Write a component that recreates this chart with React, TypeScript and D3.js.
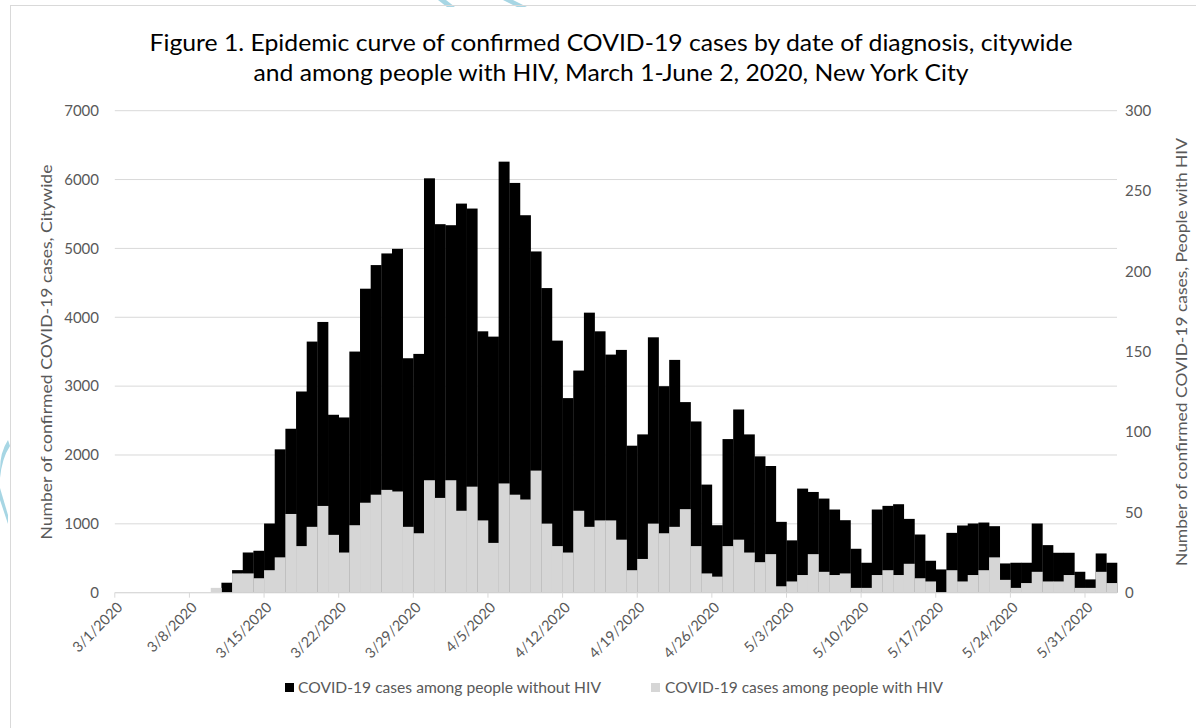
import React from "react";
import * as d3 from "d3";

const startDate = new Date(2020, 2, 1);
const endDate = new Date(2020, 5, 3);
const days: Date[] = d3.timeDay.range(startDate, endDate);
const fmt = (d: Date) => `${d.getMonth() + 1}/${d.getDate()}/${d.getFullYear()}`;
const categories: string[] = days.map(fmt);

// Citywide confirmed cases (black, left axis)
const citywide: number[] = [
  0, 0, 0, 0, 0, 0, 0, 0, 0, 0,
  145, 328, 584, 609, 1005, 2082, 2381, 2922, 3647, 3932,
  2584, 2545, 3502, 4415, 4758, 4927, 4994, 3405, 3468, 6018,
  5352, 5337, 5651, 5579, 3796, 3719, 6260, 5951, 5482, 4956,
  4424, 3661, 2826, 3226, 4067, 3796, 3458, 3526, 2135, 2299,
  3709, 2999, 3381, 2768, 2487, 1570, 980, 2231, 2661, 2299,
  1980, 1840, 1029, 760, 1512, 1463, 1367, 1208, 1053, 638,
  435, 1208, 1261, 1285, 1072, 845, 464, 338, 869, 976,
  1005, 1019, 966, 425, 435, 435, 1005, 691, 580, 580,
  304, 193, 570, 435,
];

// People with HIV (light gray, right axis)
const withHIV: number[] = [
  0, 0, 0, 0, 0, 0, 0, 0, 0, 3,
  0, 12, 12, 9, 14, 22, 49, 29, 41, 54,
  36, 25, 42, 56, 61, 64, 63, 41, 37, 70,
  59, 70, 51, 66, 45, 31, 68, 61, 58, 76,
  43, 29, 25, 51, 41, 45, 45, 33, 14, 21,
  43, 37, 41, 52, 29, 12, 10, 29, 33, 25,
  19, 24, 4, 7, 11, 24, 13, 11, 12, 3,
  3, 11, 14, 11, 18, 9, 7, 0, 14, 7,
  11, 14, 22, 8, 3, 6, 13, 7, 7, 11,
  3, 3, 13, 6,
];

const leftTicks: number[] = [0, 1000, 2000, 3000, 4000, 5000, 6000, 7000];
const rightTicks: number[] = [0, 50, 100, 150, 200, 250, 300];
const xTickLabels: string[] = categories.filter((_, i) => i % 7 === 0);

const titleLines: string[] = [
  "Figure 1. Epidemic curve of confirmed COVID-19 cases by date of diagnosis, citywide",
  "and among people with HIV, March 1-June 2, 2020, New York City",
];
const legendLabels: string[] = [
  "COVID-19 cases among people without HIV",
  "COVID-19 cases among people with HIV",
];

const W = 1196;
const H = 728;
const PL = 114.8;
const PR = 1117;
const PT = 110.7;
const PB = 592.7;
const FONT = "Lato, 'Open Sans', sans-serif";
const TXT = "#595959";
const GRID = "#d9d9d9";

export default function App() {
  const x = d3.scaleBand<string>().domain(categories).range([PL, PR]).padding(0);
  const yL = d3.scaleLinear().domain([0, 7000]).range([PB, PT]);
  const yR = d3.scaleLinear().domain([0, 300]).range([PB, PT]);
  const bw = x.bandwidth();

  return (
    <svg
      width={W}
      height={H}
      style={{ position: "absolute", left: 0, top: 0, background: "#fff" }}
      fontFamily={FONT}
    >
      <rect x={0} y={0} width={W} height={H} fill="#fff" />
      {/* decorative cyan marks */}
      <g fill="#a7d6e4">
        <polygon points="438,0 446,0 455,7 447,7" />
        <polygon points="503,0 513,0 527,7 517,7" />
        <path d="M8,440 Q0,452 0,470 L0,478 Q2,458 10,446 Z" />
        <polygon points="0,488 8,515 8,524 0,500" />
      </g>
      {/* chart border */}
      <rect x={10.5} y={5.5} width={1300} height={900} fill="none" stroke={GRID} strokeWidth={1} />

      {/* title */}
      <text x={611} y={51} textAnchor="middle" fontSize={23} fill="#000" textLength={923} lengthAdjust="spacingAndGlyphs">
        {titleLines[0]}
      </text>
      <text x={611} y={81} textAnchor="middle" fontSize={23} fill="#000" textLength={715} lengthAdjust="spacingAndGlyphs">
        {titleLines[1]}
      </text>

      {/* gridlines */}
      {leftTicks.map((t) => (
        <line key={"g" + t} x1={PL} x2={PR} y1={yL(t)} y2={yL(t)} stroke={GRID} strokeWidth={1} />
      ))}

      {/* citywide bars */}
      {citywide.map((v, i) =>
        v > 0 ? (
          <rect key={"b" + i} x={x(categories[i])!} y={yL(v)} width={bw + 0.3} height={PB - yL(v)} fill="#000" />
        ) : null
      )}
      {/* HIV bars */}
      {withHIV.map((v, i) =>
        v > 0 ? (
          <rect key={"h" + i} x={x(categories[i])!} y={yR(v)} width={bw + 0.3} height={PB - yR(v)} fill="#d6d6d6" />
        ) : null
      )}

      {/* x axis line and ticks */}
      <line x1={PL} x2={PR} y1={PB} y2={PB} stroke={GRID} strokeWidth={1} />
      {xTickLabels.map((lab) => {
        const tx = x(lab)!;
        return (
          <g key={"xt" + lab}>
            <line x1={tx} x2={tx} y1={PB} y2={PB + 5} stroke={GRID} strokeWidth={1} />
            <text
              transform={`translate(${tx + 5},${PB + 12}) rotate(-45)`}
              textAnchor="end"
              fontSize={14.5}
              fill={TXT}
              dy="0.35em"
            >
              {lab}
            </text>
          </g>
        );
      })}

      {/* left axis labels */}
      {leftTicks.map((t) => (
        <text key={"l" + t} x={99} y={yL(t)} dy="0.35em" textAnchor="end" fontSize={15} fill={TXT}>
          {t}
        </text>
      ))}
      {/* right axis labels */}
      {rightTicks.map((t) => (
        <text key={"r" + t} x={1125} y={yR(t)} dy="0.35em" textAnchor="start" fontSize={15} fill={TXT}>
          {t}
        </text>
      ))}

      {/* axis titles */}
      <text
        transform={`translate(52,352) rotate(-90)`}
        textAnchor="middle"
        fontSize={16}
        fill={TXT}
        textLength={375}
        lengthAdjust="spacingAndGlyphs"
      >
        {"Number of confirmed COVID-19 cases, Citywide"}
      </text>
      <text
        transform={`translate(1187,352) rotate(-90)`}
        textAnchor="middle"
        fontSize={16}
        fill={TXT}
        textLength={428}
        lengthAdjust="spacingAndGlyphs"
      >
        {"Number of confirmed COVID-19 cases, People with HIV"}
      </text>

      {/* legend */}
      <rect x={285} y={683} width={9} height={9} fill="#000" />
      <text x={298} y={688} dy="0.35em" fontSize={15} fill={TXT} textLength={303} lengthAdjust="spacingAndGlyphs">
        {legendLabels[0]}
      </text>
      <rect x={651} y={683} width={9} height={9} fill="#d6d6d6" />
      <text x={665} y={688} dy="0.35em" fontSize={15} fill={TXT} textLength={278} lengthAdjust="spacingAndGlyphs">
        {legendLabels[1]}
      </text>
    </svg>
  );
}
